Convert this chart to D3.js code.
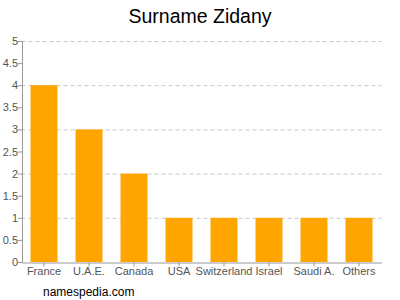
<!DOCTYPE html>
<html>
<head>
<meta charset="utf-8">
<script src="https://cdn.jsdelivr.net/npm/d3@7"></script>
<style>
  body { margin: 0; background: #fff; }
  svg { display: block; font-family: "Liberation Sans", Arial, sans-serif; }
</style>
</head>
<body>
<div id="chart"></div>
<script>
// data
var countries = ["France", "U.A.E.", "Canada", "USA", "Switzerland", "Israel", "Saudi A.", "Others"];
var counts = [4, 3, 2, 1, 1, 1, 1, 1];
var yTicks = [0, 0.5, 1, 1.5, 2, 2.5, 3, 3.5, 4, 4.5, 5];

const width = 400, height = 300;
const margin = { top: 41, right: 18.5, bottom: 38, left: 21.5 };
const innerW = width - margin.left - margin.right;
const innerH = height - margin.top - margin.bottom;

const svg = d3.select("#chart")
  .append("svg")
  .attr("width", width)
  .attr("height", height);

const g = svg.append("g")
  .attr("transform", "translate(" + margin.left + "," + margin.top + ")");

var x = d3.scaleBand()
  .domain(countries)
  .range([0, innerW])
  .paddingInner(0.4)
  .paddingOuter(0.2);

var y = d3.scaleLinear()
  .domain([0, 5])
  .range([innerH, 0]);

// dashed grid lines
g.append("g")
  .selectAll("line")
  .data(yTicks.filter(d => d > 0 && d % 1 === 0))
  .enter().append("line")
  .attr("x1", 0)
  .attr("x2", innerW)
  .attr("y1", d => y(d) + 0.5)
  .attr("y2", d => y(d) + 0.5)
  .attr("stroke", "#c8c8c8")
  .attr("stroke-dasharray", "4,3");

// bars
g.append("g")
  .selectAll("rect")
  .data(countries)
  .enter().append("rect")
  .attr("x", d => x(d))
  .attr("y", (d, i) => y(counts[i]))
  .attr("width", x.bandwidth())
  .attr("height", (d, i) => innerH - y(counts[i]))
  .attr("fill", "#ffa500");

// y axis
var yAxis = g.append("g")
  .attr("transform", "translate(0.5,0)")
  .call(d3.axisLeft(y).tickValues(yTicks).tickSize(4).tickSizeOuter(0).tickFormat(d3.format("")));
yAxis.select(".domain").attr("stroke", "#999");
yAxis.selectAll(".tick line").attr("stroke", "#999");
yAxis.selectAll("text").attr("fill", "#555").style("font-size", "11px").attr("x", -4);

// x axis
var xAxis = g.append("g")
  .attr("transform", "translate(0," + (innerH + 0.5) + ")")
  .call(d3.axisBottom(x).tickSize(4).tickSizeOuter(0));
xAxis.select(".domain").attr("stroke", "#999");
xAxis.selectAll(".tick line").attr("stroke", "#999");
xAxis.selectAll("text").attr("fill", "#555").style("font-size", "11px").attr("y", 5);

// title
svg.append("text")
  .attr("x", 200)
  .attr("y", 23)
  .attr("text-anchor", "middle")
  .style("font-size", "19.5px")
  .attr("fill", "#000")
  .text("Surname Zidany");

// footer
svg.append("text")
  .attr("x", 43)
  .attr("y", 296)
  .style("font-size", "12px")
  .attr("fill", "#000")
  .text("namespedia.com");
</script>
</body>
</html>
